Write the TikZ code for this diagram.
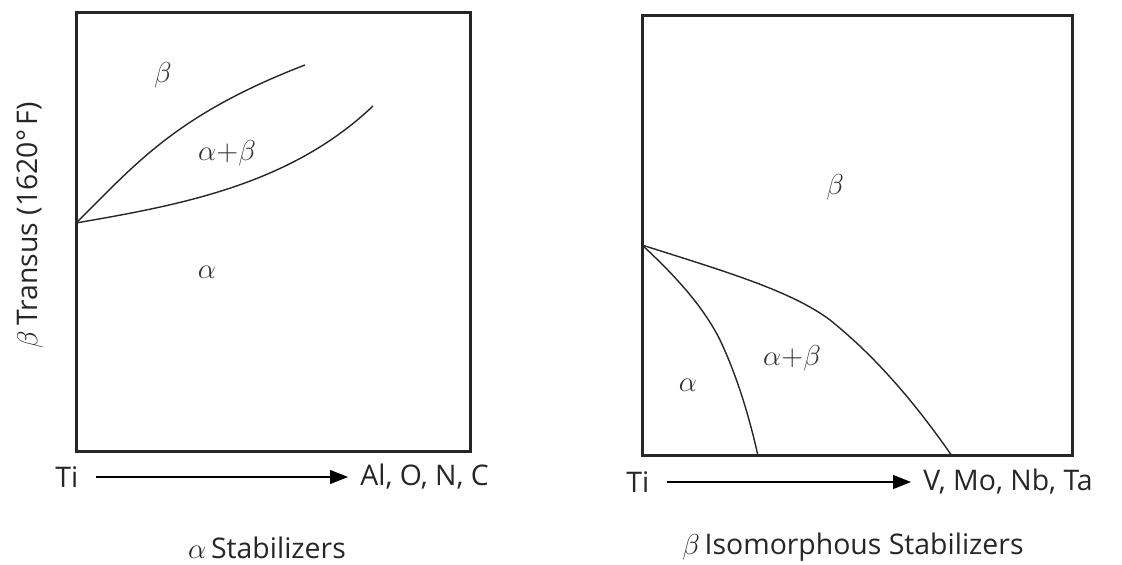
\documentclass[tikz,border=0pt]{standalone}
\usepackage{fontspec}
\setmainfont{Open Sans}
\usetikzlibrary{arrows.meta}
\tikzset{
  frame/.style={line width=1.5pt, draw=black!85},
  phase/.style={line width=0.7pt, draw=black!85},
  lbl/.style={font=\fontsize{14.2}{16}\selectfont, text=black!85, inner sep=0pt},
  greek/.style={font=\fontsize{15}{17}\selectfont, text=black!80, inner sep=0pt},
  axarrow/.style={line width=0.6pt, -{Triangle[length=9pt,width=7pt]}},
}
\begin{document}
\begin{tikzpicture}[x=0.5pt,y=-0.5pt]
\useasboundingbox (0,0) rectangle (1122,565);
% left diagram
\draw[frame] (76,13) rectangle (470,452);
\coordinate (L0) at (76,223);
\coordinate (L1) at (305,65);
\coordinate (L2) at (373,106);
\draw[phase] (L0) .. controls (135,165) and (175,115) .. (L1);
\draw[phase] (L0) .. controls (180,205) and (290,185) .. (L2);
\node[greek] (lb) at (163,75) {$\beta$};
\node[greek] (lab) at (227,153) {$\alpha{+}\beta$};
\node[greek] (la) at (207,272) {$\alpha$};
\node[lbl, rotate=90] (ly) at (30,225) {$\beta$\,Transus (1620°\,F)};
\node[lbl, anchor=west] (lti) at (55,477) {Ti};
\node[lbl, anchor=west] (lel) at (360,477) {Al, O, N, C};
\draw[axarrow] ([xshift=8.5pt]lti.east) -- ([xshift=-6pt]lel.west);
\node[lbl] (lcap) at (267,548) {$\alpha$\,Stabilizers};
% right diagram
\draw[frame] (642,16) rectangle (1072,456);
\coordinate (R0) at (642,245);
\coordinate (R1) at (952,456);
\coordinate (R2) at (758,456);
\draw[phase] (R0) .. controls (720,270) and (790,290) .. (830,320) .. controls (880,360) and (920,410) .. (R1);
\draw[phase] (R0) .. controls (680,280) and (705,310) .. (720,340) .. controls (738,378) and (750,420) .. (R2);
\node[greek] (rb) at (835,187) {$\beta$};
\node[greek] (rab) at (792,358) {$\alpha{+}\beta$};
\node[greek] (ra) at (688,385) {$\alpha$};
\node[lbl, anchor=west] (rti) at (626,482) {Ti};
\node[lbl, anchor=west] (rel) at (923,482) {V, Mo, Nb, Ta};
\draw[axarrow] ([xshift=8.5pt]rti.east) -- ([xshift=-6pt]rel.west);
\node[lbl] (rcap) at (853,547) {$\beta$\,Isomorphous Stabilizers};
\end{tikzpicture}
\end{document}
